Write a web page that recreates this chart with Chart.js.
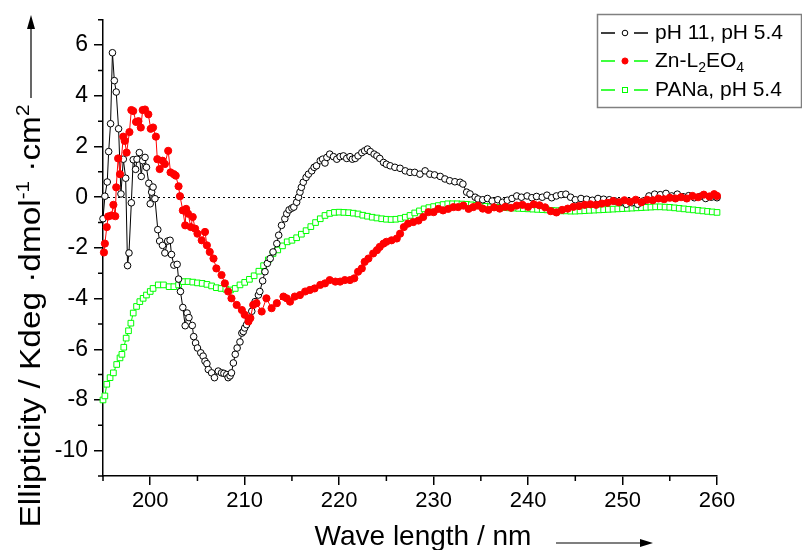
<!DOCTYPE html>
<html>
<head>
<meta charset="utf-8">
<script src="https://cdn.jsdelivr.net/npm/chart.js@4.4.0/dist/chart.umd.min.js"></script>
<style>
body{margin:0;background:#fff;}
</style>
</head>
<body>
<canvas id="cd_chart" width="802" height="550"></canvas>
<script>
// wavelength (nm) / ellipticity readings for the three samples
var black_x=[195.0,195.2,195.45,195.6,195.8, 196.0,196.2,196.4,196.65,196.9, 197.15,197.4,197.6,197.75,198.0,
 198.2,198.45,198.6,198.85,199.05, 199.2,199.45,199.6,199.85,200.0, 200.15,200.3,200.5,200.8,201.0,
 201.3,201.55,201.85,202.1,202.25, 202.5,202.85,203.0,203.2,203.45, 203.7,203.9,204.1,204.45,204.6,
 204.8,205.0,205.35,205.6,205.8, 206.0,206.15,206.5,206.8,207.2, 207.55,207.8,208.1,208.25,208.45,
 208.6,208.8,209.0,209.2,209.5, 209.7,209.85,210.0,210.2,210.4, 210.75,211.1,211.45,211.6,211.9,
 212.15,212.4,212.7,213.0,213.4, 213.6,213.9,214.25,214.45,214.7, 215.0,215.2,215.5,215.7,215.85,
 216.0,216.2,216.5,216.75,217.1, 217.35,217.6,218.0,218.25,218.5, 218.7,219.0,219.4,219.75,220.1,
 220.45,220.8,221.15,221.4,221.7, 222.0,222.4,222.7,223.0,223.3, 223.7,224.0,224.3,224.7,225.0,
 225.4,225.9,226.45,227.0,227.5, 228.0,228.55,229.1,229.6,230.1, 230.7,231.2,231.7,232.25,232.8,
 233.1,233.5,233.85,234.4,234.7, 235.2,235.7,236.2,236.8,237.3, 237.8,238.3,238.8,239.3,239.9,
 240.4,240.9,241.5,242.0,242.5, 243.0,243.5,244.0,244.5,245.0, 245.6,246.2,246.8,247.4,248.0,
 248.6,249.2,249.8,250.4,251.0, 251.6,252.2,252.8,253.4,254.0, 254.6,255.2,255.8,256.4,257.0,
 257.6,258.2,258.8,259.4,260.0];
var black_y=[-0.85,0.04,0.6,1.8,2.9, 5.7,4.6,4.15,2.7,0.13, 1.5,0.75,-2.7,-2.2,-0.22,
 1.48,1.1,1.5,1.76,0.82, 1.44,1.57,1.18,0.55,-0.26, 0.2,0.4,-0.06,-1.28,-1.73,
 -1.9,-2.2,-1.73,-1.7,-2.26, -2.68,-2.65,-3.23,-3.72,-4.35, -5.07,-4.57,-4.75,-5.06,-5.5,
 -5.75,-5.95,-6.14,-6.27,-6.47, -6.57,-6.8,-6.93,-7.12,-6.86, -6.93,-6.95,-7.0,-7.12,-7.05,
 -6.93,-6.54,-6.2,-5.95,-5.71, -5.36,-5.3,-5.16,-5.03,-4.84, -4.5,-4.12,-3.86,-3.72,-3.3,
 -2.94,-2.61,-2.42,-2.16,-1.83, -1.5,-1.11,-0.85,-0.65,-0.5, -0.43,-0.39,-0.2,0,0.2,
 0.39,0.59,0.78,0.91,1.04, 1.18,1.24,1.44,1.5,1.35, 1.57,1.7,1.6,1.5,1.6,
 1.63,1.53,1.6,1.5,1.53, 1.63,1.76,1.83,1.9,1.8, 1.7,1.63,1.53,1.37,1.3,
 1.24,1.18,1.14,1.04,0.98, 0.98,0.91,1.04,0.91,0.88, 0.82,0.72,0.65,0.61,0.59,
 0.52,0.2,0.13,0,-0.07, -0.1,-0.05,-0.15,-0.1,-0.2, -0.12,-0.05,0.05,0,0.05,
 -0.02,0.03,0,0.08,-0.02, 0.05,0.1,0.12,0,-0.1, -0.05,-0.08,-0.12,-0.05,-0.08,
 -0.1,-0.15,-0.2,-0.28,-0.22, -0.28,-0.15,0.05,0.12,0.1, 0.15,0.05,0.12,0.02,0.06,
 -0.02,0.03,-0.05,0,-0.02];

var red_x=[195.1,195.2,195.4,195.55,195.9, 196.1,196.3,196.4,196.6,196.8, 197.15,197.3,197.5,197.8,198.0,
 198.2,198.5,198.75,199.0,199.2, 199.45,199.8,200.05,200.3,200.6, 200.75,201.0,201.3,201.55,201.9,
 202.15,202.5,202.7,203.0,203.15, 203.45,203.7,203.8,204.0,204.3, 204.5,204.75,205.0,205.45,205.8,
 206.0,206.3,206.7,207.0,207.55, 207.9,208.25,208.6,209.15,209.7, 210.0,210.4,210.6,210.9,211.25,
 211.8,212.3,212.85,213.4,214.1, 214.45,214.8,215.3,215.85,216.4, 216.9,217.4,218.0,218.5,219.0,
 219.6,220.1,220.6,221.15,221.6, 222.0,222.4,222.7,223.1,223.6, 224.0,224.3,224.7,225.0,225.55,
 226.1,226.45,226.85,227.3,227.85, 228.4,228.9,229.45,230.0,230.5, 231.0,231.55,232.1,232.6,233.15,
 233.7,234.2,234.7,235.2,235.8, 236.4,237.0,237.6,238.2,238.8, 239.4,240.0,240.6,241.2,241.8,
 242.4,243.0,243.6,244.2,244.8, 245.4,246.0,246.6,247.2,247.8, 248.4,249.0,249.6,250.2,250.8,
 251.4,252.0,252.6,253.2,253.8, 254.4,255.0,255.6,256.2,256.8, 257.4,258.0,258.6,259.2,259.7,
 260.0];
var red_y=[-2.18,-1.83,-1.18,-0.76,-0.72, -0.3,-0.75,0.39,1.53,0.91, 2.39,2.22,1.76,2.57,3.44,
 3.4,2.97,3.0,2.75,3.44, 3.46,3.27,2.7,2.75,2.39, 1.5,1.11,1.44,1.31,1.83,
 0.98,0.91,0.85,0.43,0.04, -0.52,-1.11,-0.46,-0.65,-1.18, -0.78,-1.24,-1.44,-1.7,-1.37,
 -1.9,-2.16,-2.42,-2.81,-3.07, -3.4,-3.72,-3.99,-4.25,-4.45, -4.64,-4.9,-4.77,-4.25,-4.18,
 -4.51,-3.99,-4.38,-4.18,-3.92, -3.99,-4.12,-3.92,-3.86,-3.72, -3.66,-3.6,-3.46,-3.4,-3.27,
 -3.33,-3.33,-3.27,-3.27,-3.2, -2.94,-2.81,-2.55,-2.42,-2.22, -2.09,-1.96,-1.83,-1.76,-1.7,
 -1.63,-1.44,-1.18,-1.04,-0.98, -0.92,-0.78,-0.59,-0.59,-0.46, -0.52,-0.46,-0.39,-0.39,-0.33,
 -0.46,-0.39,-0.33,-0.45,-0.5, -0.4,-0.45,-0.38,-0.42,-0.33, -0.3,-0.38,-0.28,-0.32,-0.4,
 -0.55,-0.6,-0.5,-0.45,-0.38, -0.35,-0.3,-0.28,-0.3,-0.25, -0.22,-0.15,-0.2,-0.12,-0.18,
 -0.1,-0.2,-0.1,-0.12,-0.05, -0.08,-0.02,-0.05,0,-0.05, 0.05,0,0.1,0.03,0.12,
 0.05];

var green_x=[195.0,195.2,195.4,195.75,196.1,196.45,196.8,197.0,197.2,197.45,
 197.7,197.95,198.2,198.55,198.9,199.25,199.6,200.0,200.3,200.85,
 201.4,202.0,202.5,203.0,203.5,204.0,204.5,
 205.0,205.5,206.0,206.5,207.0,207.5,208.0,208.5,209.0,209.5,
 210.0,210.5,211.0,211.5,212.0,212.5,213.0,213.5,214.0,214.5,
 215.0,215.5,216.0,216.5,217.0,217.5,218.0,218.5,219.0,219.5,
 220.0,220.5,221.0,221.5,222.0,222.5,223.0,223.5,224.0,224.5,
 225.0,225.5,226.0,226.5,227.0,227.5,228.0,228.5,229.0,229.5,
 230.0,230.5,231.0,231.5,232.0,232.5,233.0,233.5,234.0,234.5,
 235.0,235.5,236.0,236.5,237.0,237.5,238.0,238.5,239.0,239.5,
 240.0,240.5,241.0,241.5,242.0,242.5,243.0,243.5,244.0,244.5,
 245.0,245.5,246.0,246.5,247.0,247.5,248.0,248.5,249.0,249.5,
 250.0,250.5,251.0,251.5,252.0,252.5,253.0,253.5,254.0,254.5,
 255.0,255.5,256.0,256.5,257.0,257.5,258.0,258.5,259.0,259.5,
 260.0];
var green_y=[-8.0,-7.84,-7.38,-7.12,-6.93,-6.6,-6.34,-6.2,-5.92,-5.56,
 -5.27,-4.97,-4.57,-4.31,-4.12,-3.99,-3.86,-3.72,-3.6,-3.46,
 -3.46,-3.53,-3.53,-3.46,-3.33,-3.33,-3.35,
 -3.38,-3.4,-3.44,-3.5,-3.57,-3.6,-3.63,-3.66,-3.6,-3.46,
 -3.36,-3.24,-3.1,-2.92,-2.7,-2.47,-2.22,-2.08,-1.92,-1.76,
 -1.7,-1.6,-1.46,-1.32,-1.16,-1.0,-0.85,-0.72,-0.64,-0.6,
 -0.59,-0.6,-0.61,-0.63,-0.66,-0.71,-0.75,-0.79,-0.82,-0.85,
 -0.87,-0.88,-0.87,-0.84,-0.79,-0.72,-0.62,-0.54,-0.46,-0.41,
 -0.37,-0.33,-0.29,-0.26,-0.26,-0.26,-0.27,-0.28,-0.3,-0.32,
 -0.34,-0.36,-0.38,-0.4,-0.4,-0.41,-0.42,-0.43,-0.44,-0.45,
 -0.46,-0.47,-0.48,-0.49,-0.5,-0.52,-0.53,-0.54,-0.54,-0.55,
 -0.55,-0.54,-0.53,-0.52,-0.51,-0.5,-0.49,-0.48,-0.47,-0.46,
 -0.45,-0.44,-0.43,-0.42,-0.41,-0.4,-0.39,-0.38,-0.38,-0.39,
 -0.4,-0.42,-0.44,-0.46,-0.48,-0.5,-0.52,-0.54,-0.56,-0.58,
 -0.6];

var x_ticks=[200,210,220,230,240,250,260];
var x_minor=[195,205,215,225,235,245,255];
var y_ticks=[-10,-8,-6,-4,-2,0,2,4,6];
var y_minor=[-11,-9,-7,-5,-3,-1,1,3,5,7];
var series_labels=["pH 11, pH 5.4","Zn-L2EO4","PANa, pH 5.4"];

var FONT="'Liberation Sans', Arial, sans-serif";

function pts(xs,ys)
{
 var out=[];
 for(var i=0;i<xs.length;i++){ out.push({x:xs[i],y:ys[i]}); }
 return out;
}

// text made of pieces: [text, size, raise]
function richWidth(ctx,parts)
{
 var w=0;
 for(var i=0;i<parts.length;i++){ ctx.font=parts[i][1]+"px "+FONT; w+=ctx.measureText(parts[i][0]).width; }
 return w;
}
function richDraw(ctx,parts,x,y)
{
 for(var i=0;i<parts.length;i++){
  ctx.font=parts[i][1]+"px "+FONT;
  ctx.fillText(parts[i][0],x,y-parts[i][2]);
  x+=ctx.measureText(parts[i][0]).width;
 }
}

var decor={
 id:'decor',
 beforeDatasetsDraw:function(chart)
 {
  var ctx=chart.ctx, xs=chart.scales.x, ys=chart.scales.y;
  var y0=Math.round(ys.getPixelForValue(0))+0.5;
  ctx.save();
  ctx.setLineDash([2,3]);
  ctx.strokeStyle="#000";
  ctx.lineWidth=1;
  ctx.beginPath(); ctx.moveTo(xs.left,y0); ctx.lineTo(xs.right,y0); ctx.stroke();
  ctx.restore();
 },
 afterDraw:function(chart)
 {
  var ctx=chart.ctx, xs=chart.scales.x, ys=chart.scales.y;
  ctx.save();
  // minor ticks
  ctx.strokeStyle="#000"; ctx.lineWidth=1.5;
  ctx.beginPath();
  x_minor.forEach(function(v){ var p=xs.getPixelForValue(v); ctx.moveTo(p,ys.bottom); ctx.lineTo(p,ys.bottom+5); });
  y_minor.forEach(function(v){ var p=ys.getPixelForValue(v); ctx.moveTo(xs.left,p); ctx.lineTo(xs.left-5,p); });
  ctx.stroke();

  ctx.fillStyle="#000";
  ctx.textBaseline="alphabetic";
  // x title + arrow
  var xt=[["Wave length / nm",28,0]];
  var w=richWidth(ctx,xt);
  richDraw(ctx,xt,423-w/2,545);
  ctx.lineWidth=1.2;
  ctx.beginPath(); ctx.moveTo(556,543); ctx.lineTo(643,543); ctx.stroke();
  ctx.beginPath(); ctx.moveTo(653,543); ctx.lineTo(640,539); ctx.lineTo(640,547); ctx.closePath(); ctx.fill();

  // y title + arrow (text a bit stretched along its length, as in the original)
  var yt=[["Ellipticity / Kdeg \u00b7dmol",29,0],["-1",18,11],[" \u00b7cm",29,0],["2",18,11]];
  w=richWidth(ctx,yt);
  ctx.save();
  ctx.translate(40,316);
  ctx.rotate(-Math.PI/2);
  ctx.scale(1.15,1);
  richDraw(ctx,yt,-w/2,0);
  ctx.restore();
  ctx.beginPath(); ctx.moveTo(31,98); ctx.lineTo(31,26); ctx.stroke();
  ctx.beginPath(); ctx.moveTo(31,15); ctx.lineTo(27,29); ctx.lineTo(35,29); ctx.closePath(); ctx.fill();

  // legend
  ctx.strokeStyle="#808080"; ctx.lineWidth=1.5;
  ctx.strokeRect(597.5,14.5,204,93);
  var rows=[33,61,90];
  var ds=chart.data.datasets;
  var lineCols=["#000","#00ff00","#00ff00"];
  for(var i=0;i<3;i++){
   var ry=rows[i];
   ctx.strokeStyle=lineCols[i]; ctx.lineWidth=1.5;
   ctx.beginPath(); ctx.moveTo(601,ry); ctx.lineTo(615,ry); ctx.moveTo(634,ry); ctx.lineTo(648,ry); ctx.stroke();
   ctx.lineWidth=1;
   ctx.fillStyle=ds[i].pointBackgroundColor; ctx.strokeStyle=ds[i].pointBorderColor;
   if(ds[i].pointStyle=="rect"){
    ctx.fillRect(622,ry-3,6,6); ctx.strokeRect(622.5,ry-2.5,5,5);
   } else {
    ctx.beginPath(); ctx.arc(625,ry,ds[i].pointRadius*0.85,0,Math.PI*2); ctx.fill(); ctx.stroke();
   }
   ctx.fillStyle="#000";
   ctx.textBaseline="middle";
   if(i==1){
    richDraw(ctx,[["Zn-L",21,0],["2",14,-7],["EO",21,0],["4",14,-7]],655,ry);
   } else {
    richDraw(ctx,[[series_labels[i],21,0]],655,ry);
   }
  }
  ctx.restore();
 }
};

var chart_obj=new Chart(document.getElementById("cd_chart"),{
 type:'scatter',
 data:{
  datasets:[{
    label:series_labels[0],
    data:pts(black_x,black_y),
    showLine:true,
    borderColor:"#000",
    borderWidth:1,
    pointStyle:'circle',
    pointRadius:3.3,
    pointBorderWidth:1,
    pointBorderColor:"#000",
    pointBackgroundColor:"#fff",
    order:1
   },{
    label:series_labels[1],
    data:pts(red_x,red_y),
    showLine:true,
    borderColor:"#ff0000",
    borderWidth:1,
    pointStyle:'circle',
    pointRadius:3.6,
    pointBorderWidth:1,
    pointBorderColor:"#ff0000",
    pointBackgroundColor:"#ff0000",
    order:0
   },{
    label:series_labels[2],
    data:pts(green_x,green_y),
    showLine:true,
    borderColor:"#00ff00",
    borderWidth:1,
    pointStyle:'rect',
    pointRadius:4,
    pointBorderWidth:1,
    pointBorderColor:"#00ff00",
    pointBackgroundColor:"#fff",
    order:2
   }]
 },
 options:{
  responsive:false,
  animation:false,
  clip:false,
  layout:{padding:{top:17,right:85,left:0,bottom:0}},
  plugins:{legend:{display:false},tooltip:{enabled:false}},
  scales:{
   x:{
    type:'linear',min:195,max:260,
    afterBuildTicks:function(s){ s.ticks=x_ticks.map(function(v){return {value:v};}); },
    afterFit:function(s){ s.height=74; },
    grid:{drawOnChartArea:false,drawTicks:true,tickLength:9,color:"#000",lineWidth:1.5},
    border:{display:true,color:"#000",width:1.5},
    ticks:{color:"#000",font:{family:FONT,size:22},padding:3,maxRotation:0}
   },
   y:{
    min:-11,max:7,
    afterBuildTicks:function(s){ s.ticks=y_ticks.map(function(v){return {value:v};}); },
    afterFit:function(s){ s.width=103; },
    grid:{drawOnChartArea:false,drawTicks:true,tickLength:9,color:"#000",lineWidth:1.5},
    border:{display:true,color:"#000",width:1.5},
    ticks:{color:"#000",font:{family:FONT,size:23},padding:6}
   }
  }
 },
 plugins:[decor]
});
</script>
</body>
</html>
